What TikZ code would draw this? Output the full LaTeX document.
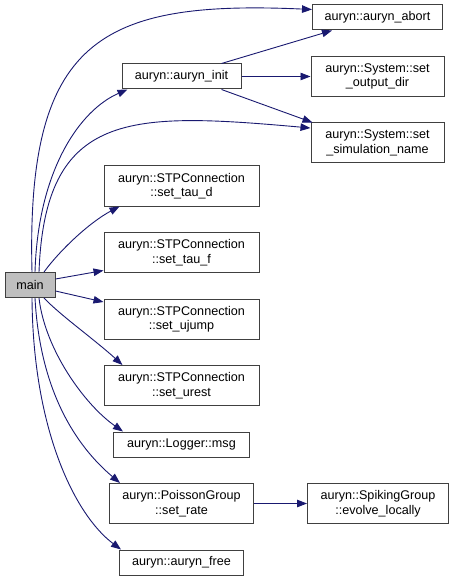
\documentclass[tikz,border=0pt]{standalone}
\usepackage{fontspec}
\setmainfont{Liberation Sans}
\usetikzlibrary{positioning}
\usetikzlibrary{arrows.meta}
\definecolor{callblue}{HTML}{191970}
\definecolor{boxline}{HTML}{404040}
\tikzset{node distance=25.5pt and 69pt,
    func/.style={
        draw=boxline,
        line width=1pt,
        rectangle,
        align=center,
        inner xsep=2pt,
        inner ysep=0pt,
        minimum height=25pt,
        font=\fontsize{12.6}{14.5}\selectfont},
    twoline/.style={func, minimum height=40pt},
    root/.style={func, fill=gray!50},
    call/.style={
        draw=callblue,
        line width=0.9pt,
        -{Triangle[length=10pt,width=7.5pt]}}}

\begin{document}
\begin{tikzpicture}[x=1pt,y=-1pt]
        \useasboundingbox (0,0) rectangle (452,577);
        \node[root, minimum width=50pt] (main) at (30,285) {main};
        \node[twoline, minimum width=155pt] (taud) at (181.5,186) {auryn::STPConnection\\::set\_tau\_d};
        \node[twoline, minimum width=155pt, below=of taud] (tauf) {auryn::STPConnection\\::set\_tau\_f};
        \node[twoline, minimum width=155pt, below=of tauf] (ujump) {auryn::STPConnection\\::set\_ujump};
        \node[twoline, minimum width=155pt, below=of ujump] (urest) {auryn::STPConnection\\::set\_urest};
        \node[func, minimum width=136pt, below=of urest] (msg) {auryn::Logger::msg};
        \node[twoline, minimum width=144pt, below=of msg] (setrate) {auryn::PoissonGroup\\::set\_rate};
        \node[func, minimum width=124pt, below=of setrate] (free) {auryn::auryn\_free};
        \node[func, minimum width=119pt, above=76pt of taud] (init) {auryn::auryn\_init};
        \node[twoline, minimum width=133pt, right=of init] (outdir) {auryn::System::set\\\_output\_dir};
        \node[func, minimum width=130pt, above=of outdir] (abort) {auryn::auryn\_abort};
        \node[twoline, minimum width=133pt, below=of outdir] (simname) {auryn::System::set\\\_simulation\_name};
        \node[twoline, minimum width=141pt, right=53pt of setrate] (evolve) {auryn::SpikingGroup\\::evolve\_locally};
        % calls from main
        \draw[call] ([xshift=2pt]main.north) .. controls (26,40) and (100,0) .. ([yshift=8pt]abort.west);
        \draw[call] ([xshift=5pt]main.north) .. controls (38,170) and (80,110) .. ([xshift=6pt]init.south west);
        \draw[call] ([xshift=9pt]main.north) .. controls (45,110) and (130,112) .. ([yshift=15pt]simname.west);
        \draw[call] ([xshift=14pt]main.north) .. controls (60,250) and (90,222) .. ([xshift=16pt]taud.south west);
        \draw[call] ([yshift=6pt]main.east) -- ([yshift=-18pt]tauf.west);
        \draw[call] ([yshift=-6pt]main.east) -- ([yshift=17pt]ujump.west);
        \draw[call] ([xshift=14pt]main.south) .. controls (60,315) and (95,340) .. ([xshift=19pt]urest.north west);
        \draw[call] ([xshift=9pt]main.south) .. controls (45,350) and (85,405) .. ([xshift=10pt]msg.north west);
        \draw[call] ([xshift=5pt]main.south) .. controls (40,390) and (75,445) .. ([xshift=11pt]setrate.north west);
        \draw[call] ([xshift=2pt]main.south) .. controls (33,430) and (75,515) .. ([xshift=2pt]free.north west);
        % calls from auryn_init
        \draw[call] ([xshift=-20pt]init.north east) -- ([xshift=20pt]abort.south west);
        \draw[call] (init.east) -- (outdir.west);
        \draw[call] ([xshift=-20pt]init.south east) -- ([xshift=2pt]simname.north west);
        \draw[call] (setrate.east) -- (evolve.west);
\end{tikzpicture}
\end{document}
